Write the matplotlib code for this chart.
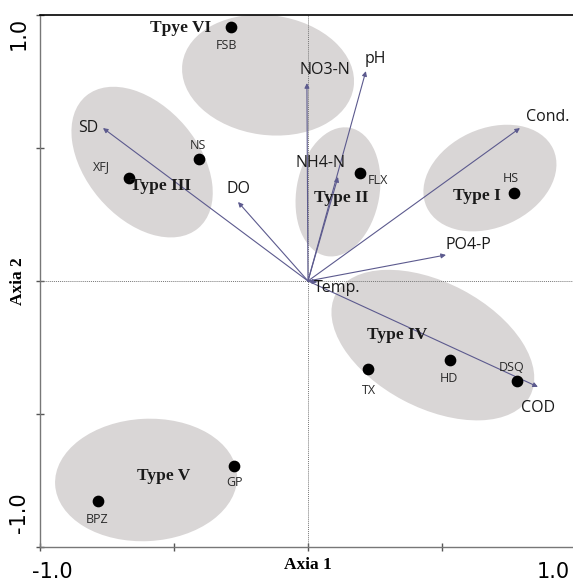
import matplotlib
matplotlib.use("Agg")
import matplotlib.pyplot as plt
from matplotlib.patches import Ellipse

# sites (scores on axis 1 / axis 2)
sites = ["FSB", "NS", "XFJ", "FLX", "HS", "HD", "TX", "DSQ", "GP", "BPZ"]
site_x = [-0.287, -0.407, -0.668, 0.194, 0.769, 0.530, 0.224, 0.780, -0.276, -0.784]
site_y = [0.955, 0.459, 0.387, 0.406, 0.331, -0.297, -0.331, -0.376, -0.695, -0.827]
site_lx = [-0.306, -0.410, -0.772, 0.261, 0.757, 0.526, 0.228, 0.761, -0.276, -0.787]
site_ly = [0.887, 0.511, 0.432, 0.376, 0.387, -0.368, -0.410, -0.327, -0.756, -0.898]

# environmental variables (arrow tips)
envs = ["SD", "DO", "NO3-N", "pH", "NH4-N", "Cond.", "PO4-P", "Temp.", "COD"]
env_x = [-0.765, -0.261, -0.004, 0.216, 0.112, 0.791, 0.515, 0.035, 0.858]
env_y = [0.575, 0.297, 0.744, 0.789, 0.391, 0.575, 0.098, -0.004, -0.398]
env_lx = [-0.821, -0.261, 0.063, 0.250, 0.045, 0.896, 0.597, 0.108, 0.858]
env_ly = [0.575, 0.346, 0.793, 0.835, 0.444, 0.617, 0.135, -0.026, -0.477]

# groups
groups = ["Type I", "Type II", "Type III", "Type IV", "Type V", "Tpye VI"]
grp_cx = [0.679, 0.112, -0.619, 0.466, -0.604, -0.149]
grp_cy = [0.387, 0.335, 0.447, -0.241, -0.748, 0.774]
grp_w = [0.52, 0.49, 0.65, 0.82, 0.68, 0.645]
grp_h = [0.37, 0.31, 0.42, 0.47, 0.46, 0.45]
grp_ang = [25, 80, -50, -28, 3, -8]
grp_lx = [0.631, 0.123, -0.549, 0.332, -0.537, -0.474]
grp_ly = [0.320, 0.312, 0.357, -0.203, -0.733, 0.951]

fig = plt.figure(figsize=(5.73, 5.82), dpi=100)
ax = fig.add_axes([40/573, 35/582, 533/573, 532/582])
ax.set_xlim(-1.0, 0.989)
ax.set_ylim(-1.0, 1.0)

for i in range(len(groups)):
    ax.add_patch(Ellipse((grp_cx[i], grp_cy[i]), grp_w[i], grp_h[i], angle=grp_ang[i],
                         facecolor="#d9d6d6", edgecolor="none", zorder=1))
    ax.text(grp_lx[i], grp_ly[i], groups[i], family="Liberation Serif", fontweight="bold",
            fontsize=12.5, ha="center", va="center", color="#1a1a1a", zorder=5)

ax.axhline(0, color="#777777", lw=0.7, ls=(0, (1, 1)), zorder=2)
ax.axvline(0, color="#777777", lw=0.7, ls=(0, (1, 1)), zorder=2)

for i in range(len(envs)):
    ax.annotate("", xy=(env_x[i], env_y[i]), xytext=(0, 0),
                arrowprops=dict(arrowstyle="-|>", color="#5c5a8e", lw=0.8,
                                mutation_scale=7, shrinkA=0, shrinkB=0), zorder=3)
    ax.text(env_lx[i], env_ly[i], envs[i], family="Open Sans", fontsize=11.5,
            ha="center", va="center", color="#1a1a1a", zorder=5)

ax.scatter(site_x, site_y, s=55, color="black", zorder=4)
for i in range(len(sites)):
    ax.text(site_lx[i], site_ly[i], sites[i], family="Open Sans", fontsize=9,
            ha="center", va="center", color="#2a2a2a", zorder=5)

# axes styling
ax.spines["right"].set_visible(False)
ax.spines["top"].set_color("black")
ax.spines["top"].set_linewidth(1.2)
ax.spines["left"].set_color("#777777")
ax.spines["bottom"].set_color("#777777")
ax.spines["left"].set_linewidth(1.0)
ax.spines["bottom"].set_linewidth(1.0)
ax.set_xticks([-1.0, -0.5, 0.0, 0.5])
ax.set_yticks([-1.0, -0.5, 0.0, 0.5, 1.0])
ax.set_xticklabels([])
ax.set_yticklabels([])
ax.tick_params(direction="inout", length=6, width=1, color="#555555")

# tick labels as in the reference (pulled inward)
ax.text(-0.955, -1.094, "-1.0", fontsize=15, ha="center", va="center", clip_on=False)
ax.text(0.915, -1.094, "1.0", fontsize=15, ha="center", va="center", clip_on=False)
ax.text(-1.078, 0.93, "1.0", fontsize=15, rotation=90, ha="center", va="center", clip_on=False)
ax.text(-1.078, -0.87, "-1.0", fontsize=15, rotation=90, ha="center", va="center", clip_on=False)

ax.text(0.0, -1.068, "Axia 1", family="Liberation Serif", fontweight="bold", fontsize=12.5,
        ha="center", va="center", clip_on=False)
ax.text(-1.082, 0.0, "Axia 2", family="Liberation Serif", fontweight="bold", fontsize=12.5,
        rotation=90, ha="center", va="center", clip_on=False)

fig.savefig("out.png", dpi=100)
